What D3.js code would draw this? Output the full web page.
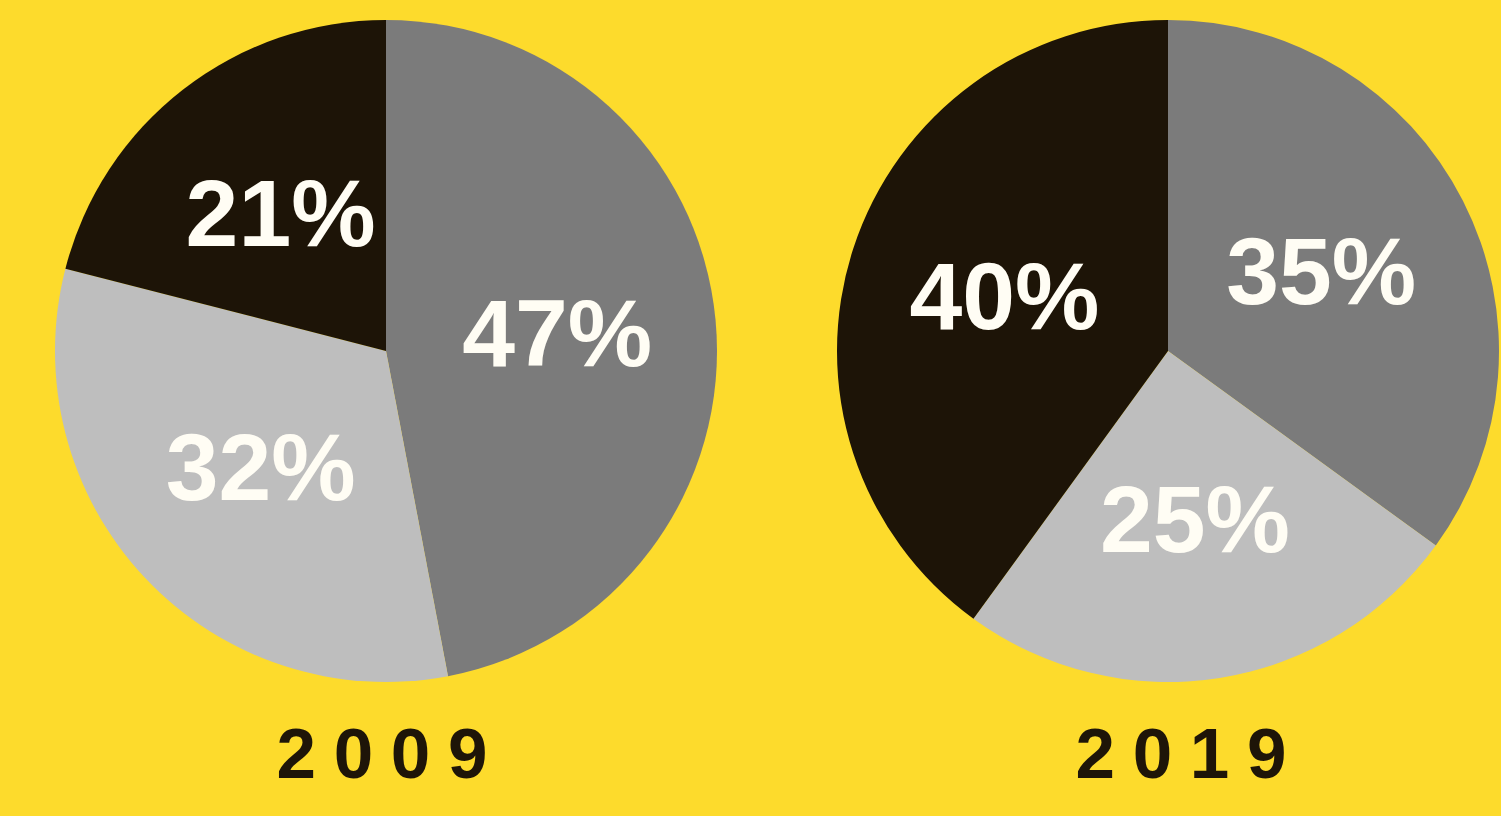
<!DOCTYPE html>
<html>
<head>
<meta charset="utf-8">
<script src="https://cdn.jsdelivr.net/npm/d3@7"></script>
<style>
  html, body { margin: 0; padding: 0; background: #fddb2c; }
  svg { display: block; }
</style>
</head>
<body>
<script>
var width = 1501;
var height = 816;

var years = ["2009", "2019"];
var categories = ["mid", "light", "dark"];
var values2009 = [47, 32, 21];
var values2019 = [35, 25, 40];
var series = [values2009, values2019];

var colors = d3.scaleOrdinal()
  .domain(categories)
  .range(["#7b7b7b", "#bebebe", "#1d1407"]);

// pie centres and year captions
var x = d3.scalePoint()
  .domain(years)
  .range([386, 1168]);
var xCaption = d3.scalePoint()
  .domain(years)
  .range([382, 1181]);

var radius = 331;
var cy = 351;

var svg = d3.select("body")
  .append("svg")
  .attr("width", width)
  .attr("height", height);

var pie = d3.pie()
  .sort(null)
  .value(function(d) { return d.value; });

var arc = d3.arc()
  .innerRadius(0)
  .outerRadius(radius);

var labelArc = d3.arc()
  .innerRadius(172)
  .outerRadius(172);

var groups = svg.selectAll("g.pie")
  .data(years)
  .enter().append("g")
  .attr("class", "pie")
  .attr("transform", function(d) { return "translate(" + x(d) + "," + cy + ")"; });

groups.each(function(year, i) {
  var g = d3.select(this);
  var data = pie(series[i].map(function(v, j) { return { key: categories[j], value: v }; }));

  g.selectAll("path")
    .data(data)
    .enter().append("path")
    .attr("d", arc)
    .style("fill", function(d) { return colors(d.data.key); });

  g.selectAll("text.pct")
    .data(data)
    .enter().append("text")
    .attr("class", "pct")
    .attr("x", function(d) { return labelArc.centroid(d)[0]; })
    .attr("y", function(d) { return labelArc.centroid(d)[1]; })
    .attr("dy", "0.33em")
    .attr("textLength", 190)
    .attr("lengthAdjust", "spacingAndGlyphs")
    .style("text-anchor", "middle")
    .style("font-family", "'Liberation Sans', Arial, sans-serif")
    .style("font-weight", "bold")
    .style("font-size", "94px")
    .style("fill", "#fffdf4")
    .text(function(d) { return d.data.value + "%"; });
});

svg.selectAll("text.year")
  .data(years)
  .enter().append("text")
  .attr("class", "year")
  .attr("x", function(d) { return xCaption(d); })
  .attr("y", 778)
  .attr("textLength", 211)
  .attr("lengthAdjust", "spacing")
  .style("text-anchor", "middle")
  .style("font-family", "'Liberation Sans', Arial, sans-serif")
  .style("font-weight", "bold")
  .style("font-size", "71px")
  .style("fill", "#1e1508")
  .text(function(d) { return d; });
</script>
</body>
</html>
